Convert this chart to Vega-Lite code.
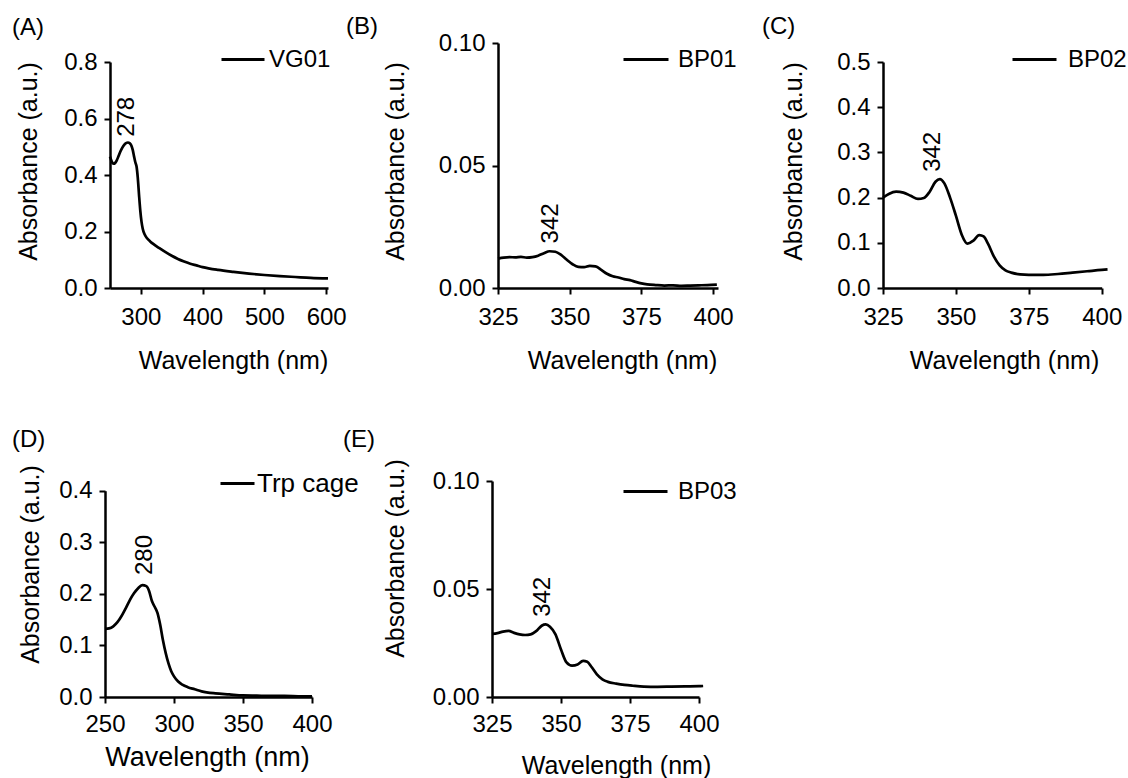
{
  "$schema": "https://vega.github.io/schema/vega-lite/v6.json",
  "background": "white",
  "padding": {"left": 12, "top": 15, "right": 5, "bottom": 5},
  "bounds": "flush",
  "columns": 3,
  "spacing": {"row": 193, "column": 165},
  "datasets": {
    "vg01": [
      {"wl":250,"a":0.465},{"wl":252,"a":0.452},{"wl":254,"a":0.443},{"wl":256,"a":0.44},{"wl":258,"a":0.442},
      {"wl":261,"a":0.452},{"wl":264,"a":0.468},{"wl":267,"a":0.484},{"wl":270,"a":0.497},{"wl":273,"a":0.507},
      {"wl":276,"a":0.513},{"wl":279,"a":0.515},{"wl":282,"a":0.512},{"wl":285,"a":0.502},{"wl":287,"a":0.487},
      {"wl":289,"a":0.465},{"wl":291,"a":0.445},{"wl":293,"a":0.43},{"wl":295,"a":0.39},{"wl":297,"a":0.33},
      {"wl":299,"a":0.275},{"wl":301,"a":0.235},{"wl":303,"a":0.21},{"wl":306,"a":0.19},{"wl":310,"a":0.176},
      {"wl":315,"a":0.165},{"wl":320,"a":0.156},{"wl":330,"a":0.141},{"wl":340,"a":0.127},{"wl":350,"a":0.114},
      {"wl":360,"a":0.103},{"wl":370,"a":0.094},{"wl":380,"a":0.086},{"wl":390,"a":0.08},{"wl":400,"a":0.074},
      {"wl":425,"a":0.064},{"wl":450,"a":0.057},{"wl":475,"a":0.051},{"wl":500,"a":0.046},{"wl":525,"a":0.042},
      {"wl":550,"a":0.039},{"wl":575,"a":0.036},{"wl":603,"a":0.034}
    ],
    "bp01": [
      {"wl":325,"a":0.0120},{"wl":327,"a":0.0124},{"wl":329,"a":0.0126},{"wl":331,"a":0.0125},{"wl":333,"a":0.0127},
      {"wl":335,"a":0.0124},{"wl":337,"a":0.0126},{"wl":339,"a":0.0132},{"wl":341,"a":0.0142},{"wl":343,"a":0.0150},
      {"wl":345,"a":0.0148},{"wl":347,"a":0.0135},{"wl":349,"a":0.0115},{"wl":351,"a":0.0097},{"wl":353,"a":0.0086},
      {"wl":355,"a":0.0085},{"wl":357,"a":0.0090},{"wl":359,"a":0.0088},{"wl":361,"a":0.0074},{"wl":363,"a":0.0058},
      {"wl":365,"a":0.0048},{"wl":367,"a":0.0043},{"wl":369,"a":0.0036},{"wl":371,"a":0.0032},{"wl":373,"a":0.0025},
      {"wl":375,"a":0.0019},{"wl":377,"a":0.0015},{"wl":380,"a":0.0012},{"wl":383,"a":0.0010},{"wl":386,"a":0.0011},
      {"wl":389,"a":0.0009},{"wl":392,"a":0.0010},{"wl":395,"a":0.0011},{"wl":398,"a":0.0012},{"wl":401.3,"a":0.0014}
    ],
    "bp02": [
      {"wl":325,"a":0.200},{"wl":327,"a":0.208},{"wl":329.5,"a":0.213},{"wl":332,"a":0.211},{"wl":334.5,"a":0.204},
      {"wl":337,"a":0.197},{"wl":339,"a":0.199},{"wl":341,"a":0.213},{"wl":343,"a":0.235},{"wl":344.5,"a":0.241},
      {"wl":346,"a":0.232},{"wl":348,"a":0.200},{"wl":350,"a":0.160},{"wl":352,"a":0.118},{"wl":354,"a":0.098},
      {"wl":356,"a":0.105},{"wl":358,"a":0.117},{"wl":359.5,"a":0.114},{"wl":361,"a":0.098},{"wl":363,"a":0.070},
      {"wl":365,"a":0.050},{"wl":367,"a":0.039},{"wl":369,"a":0.034},{"wl":372,"a":0.030},{"wl":375,"a":0.029},
      {"wl":380,"a":0.029},{"wl":385,"a":0.031},{"wl":390,"a":0.034},{"wl":395,"a":0.037},{"wl":400,"a":0.040},
      {"wl":402,"a":0.041}
    ],
    "trp": [
      {"wl":250,"a":0.132},{"wl":253,"a":0.133},{"wl":256,"a":0.137},{"wl":259,"a":0.145},{"wl":262,"a":0.157},
      {"wl":265,"a":0.172},{"wl":268,"a":0.188},{"wl":271,"a":0.201},{"wl":274,"a":0.211},{"wl":277,"a":0.217},
      {"wl":280,"a":0.215},{"wl":282,"a":0.205},{"wl":284,"a":0.186},{"wl":286,"a":0.175},{"wl":288,"a":0.163},
      {"wl":290,"a":0.140},{"wl":292,"a":0.110},{"wl":294,"a":0.085},{"wl":296,"a":0.065},{"wl":298,"a":0.050},
      {"wl":300,"a":0.040},{"wl":303,"a":0.030},{"wl":306,"a":0.024},{"wl":310,"a":0.019},{"wl":315,"a":0.015},
      {"wl":320,"a":0.011},{"wl":330,"a":0.007},{"wl":340,"a":0.005},{"wl":350,"a":0.003},{"wl":360,"a":0.0025},
      {"wl":370,"a":0.002},{"wl":380,"a":0.002},{"wl":390,"a":0.0015},{"wl":400,"a":0.0012}
    ],
    "bp03": [
      {"wl":325,"a":0.0292},{"wl":327,"a":0.0296},{"wl":329,"a":0.0303},{"wl":331,"a":0.0306},{"wl":333,"a":0.0297},
      {"wl":335,"a":0.0290},{"wl":337,"a":0.0287},{"wl":339,"a":0.0290},{"wl":341,"a":0.0305},{"wl":343,"a":0.0330},
      {"wl":344.5,"a":0.0336},{"wl":346,"a":0.0325},{"wl":348,"a":0.0290},{"wl":350,"a":0.0220},{"wl":352,"a":0.0160},
      {"wl":354,"a":0.0145},{"wl":356,"a":0.0150},{"wl":358,"a":0.0167},{"wl":359.5,"a":0.0163},{"wl":361,"a":0.0140},
      {"wl":363,"a":0.0105},{"wl":365,"a":0.0082},{"wl":367,"a":0.0070},{"wl":370,"a":0.0062},{"wl":373,"a":0.0056},
      {"wl":376,"a":0.0052},{"wl":380,"a":0.0048},{"wl":385,"a":0.0047},{"wl":390,"a":0.0048},{"wl":395,"a":0.0049},
      {"wl":400,"a":0.0050},{"wl":401.5,"a":0.0051}
    ],
    "annA": [{"wl":278,"a":0.535,"t":"278"}],
    "annB": [{"wl":343.6,"a":0.0182,"t":"342"}],
    "annC": [{"wl":342.1,"a":0.257,"t":"342"}],
    "annD": [{"wl":279,"a":0.2365,"t":"280"}],
    "annE": [{"wl":343.3,"a":0.0371,"t":"342"}]
  },
  "concat": [
    {
      "width": 223, "height": 245,
      "title": {"text": "(A)", "anchor": "start", "frame": "group", "dx": -98, "offset": -3},
      "layer": [
        {
          "data": {"name": "vg01"},
          "mark": {"type": "line", "strokeWidth": 2.7, "interpolate": "monotone"},
          "encoding": {
            "x": {"field": "wl", "type": "quantitative", "scale": {"domain": [250, 603], "range": [0, 218], "nice": false},
                  "axis": {"values": [300, 400, 500, 600], "title": "Wavelength (nm)", "titleX": 123, "labelPadding": 11, "titlePadding": 19}},
            "y": {"field": "a", "type": "quantitative", "scale": {"domain": [0, 0.8], "range": [245, 19], "nice": false},
                  "axis": {"values": [0, 0.2, 0.4, 0.6, 0.8], "format": ".1f", "title": "Absorbance (a.u.)", "titleY": 118, "titlePadding": 22}},
            "stroke": {"datum": "VG01", "type": "nominal", "scale": {"range": ["black"]},
                       "legend": {"legendX": 110, "legendY": -6.5, "symbolSize": 1849, "labelOffset": 3}}
          }
        },
        {
          "data": {"name": "annA"},
          "mark": {"type": "text", "angle": 270, "align": "left", "baseline": "middle", "fontSize": 24, "color": "black"},
          "encoding": {"x": {"field": "wl", "type": "quantitative"}, "y": {"field": "a", "type": "quantitative"}, "text": {"field": "t"}}
        }
      ]
    },
    {
      "width": 220, "height": 245,
      "title": {"text": "(B)", "anchor": "start", "frame": "group", "dx": -152, "offset": -8},
      "layer": [
        {
          "data": {"name": "bp01"},
          "mark": {"type": "line", "strokeWidth": 2.7, "interpolate": "monotone"},
          "encoding": {
            "x": {"field": "wl", "type": "quantitative", "scale": {"domain": [325, 401.7], "range": [0, 220], "nice": false},
                  "axis": {"values": [325, 350, 375, 400], "title": "Wavelength (nm)", "titleX": 124, "labelPadding": 11, "titlePadding": 19}},
            "y": {"field": "a", "type": "quantitative", "scale": {"domain": [0, 0.1], "range": [245, 0], "nice": false},
                  "axis": {"values": [0, 0.05, 0.1], "format": ".2f", "title": "Absorbance (a.u.)", "titleY": 118, "titlePadding": 30}},
            "stroke": {"datum": "BP01", "type": "nominal", "scale": {"range": ["black"]},
                       "legend": {"legendX": 124, "legendY": -7.5, "symbolSize": 2025, "labelOffset": 8}}
          }
        },
        {
          "data": {"name": "annB"},
          "mark": {"type": "text", "angle": 270, "align": "left", "baseline": "middle", "fontSize": 24, "color": "black"},
          "encoding": {"x": {"field": "wl", "type": "quantitative"}, "y": {"field": "a", "type": "quantitative"}, "text": {"field": "t"}}
        }
      ]
    },
    {
      "width": 219, "height": 245,
      "title": {"text": "(C)", "anchor": "start", "frame": "group", "dx": -121, "offset": -3},
      "layer": [
        {
          "data": {"name": "bp02"},
          "mark": {"type": "line", "strokeWidth": 2.7, "interpolate": "monotone"},
          "encoding": {
            "x": {"field": "wl", "type": "quantitative", "scale": {"domain": [325, 400], "range": [0, 218.7], "nice": false},
                  "axis": {"values": [325, 350, 375, 400], "title": "Wavelength (nm)", "titleX": 121, "labelPadding": 11, "titlePadding": 19}},
            "y": {"field": "a", "type": "quantitative", "scale": {"domain": [0, 0.5], "range": [245, 19], "nice": false},
                  "axis": {"values": [0, 0.1, 0.2, 0.3, 0.4, 0.5], "format": ".1f", "title": "Absorbance (a.u.)", "titleY": 118, "titlePadding": 30}},
            "stroke": {"datum": "BP02", "type": "nominal", "scale": {"range": ["black"]},
                       "legend": {"legendX": 128, "legendY": -7, "symbolSize": 1936, "labelOffset": 10}}
          }
        },
        {
          "data": {"name": "annC"},
          "mark": {"type": "text", "angle": 270, "align": "left", "baseline": "middle", "fontSize": 24, "color": "black"},
          "encoding": {"x": {"field": "wl", "type": "quantitative"}, "y": {"field": "a", "type": "quantitative"}, "text": {"field": "t"}}
        }
      ]
    },
    {
      "width": 217, "height": 216,
      "title": {"text": "(D)", "anchor": "start", "frame": "group", "dx": -98, "offset": 13},
      "layer": [
        {
          "data": {"name": "trp"},
          "mark": {"type": "line", "strokeWidth": 2.7, "interpolate": "monotone"},
          "encoding": {
            "x": {"field": "wl", "type": "quantitative", "scale": {"domain": [250, 400], "range": [-5, 202], "nice": false},
                  "axis": {"values": [250, 300, 350, 400], "title": "Wavelength (nm)", "titleX": 97, "titleFontSize": 27, "labelPadding": 9, "titlePadding": 8}},
            "y": {"field": "a", "type": "quantitative", "scale": {"domain": [0, 0.4], "range": [216, 9.7], "nice": false},
                  "axis": {"values": [0, 0.1, 0.2, 0.3, 0.4], "format": ".1f", "title": "Absorbance (a.u.)", "titleY": 83, "titlePadding": 15, "offset": 5}},
            "stroke": {"datum": "Trp cage", "type": "nominal", "scale": {"range": ["black"]},
                       "legend": {"legendX": 109, "legendY": -16, "symbolSize": 1156, "labelOffset": 1, "labelFontSize": 26}}
          }
        },
        {
          "data": {"name": "annD"},
          "mark": {"type": "text", "angle": 270, "align": "left", "baseline": "middle", "fontSize": 24, "color": "black"},
          "encoding": {"x": {"field": "wl", "type": "quantitative"}, "y": {"field": "a", "type": "quantitative"}, "text": {"field": "t"}}
        }
      ]
    },
    {
      "width": 207, "height": 216,
      "title": {"text": "(E)", "anchor": "start", "frame": "group", "dx": -155, "offset": 7},
      "layer": [
        {
          "data": {"name": "bp03"},
          "mark": {"type": "line", "strokeWidth": 2.7, "interpolate": "monotone"},
          "encoding": {
            "x": {"field": "wl", "type": "quantitative", "scale": {"domain": [325, 400], "range": [-6, 201], "nice": false},
                  "axis": {"values": [325, 350, 375, 400], "title": "Wavelength (nm)", "titleX": 118, "labelPadding": 9, "titlePadding": 17}},
            "y": {"field": "a", "type": "quantitative", "scale": {"domain": [0, 0.1], "range": [216, 0], "nice": false},
                  "axis": {"values": [0, 0.05, 0.1], "format": ".2f", "title": "Absorbance (a.u.)", "titleY": 77, "titlePadding": 24, "offset": 6}},
            "stroke": {"datum": "BP03", "type": "nominal", "scale": {"range": ["black"]},
                       "legend": {"legendX": 124, "legendY": -13, "symbolSize": 1936, "labelOffset": 9}}
          }
        },
        {
          "data": {"name": "annE"},
          "mark": {"type": "text", "angle": 270, "align": "left", "baseline": "middle", "fontSize": 24, "color": "black"},
          "encoding": {"x": {"field": "wl", "type": "quantitative"}, "y": {"field": "a", "type": "quantitative"}, "text": {"field": "t"}}
        }
      ]
    }
  ],
  "resolve": {"scale": {"stroke": "independent"}, "legend": {"stroke": "independent"}},
  "config": {
    "font": "Liberation Sans",
    "view": {"stroke": null},
    "axis": {
      "domainColor": "black", "domainWidth": 2.5, "tickColor": "black", "tickWidth": 2, "tickSize": 6,
      "labelFont": "Liberation Sans", "labelFontSize": 24, "labelColor": "black",
      "titleFont": "Liberation Sans", "titleFontSize": 25, "titleFontWeight": "normal", "titleColor": "black",
      "grid": false, "labelFlush": false, "labelOverlap": false
    },
    "axisY": {"labelPadding": 7},
    "legend": {
      "orient": "none", "symbolType": "stroke", "symbolStrokeWidth": 3, "labelFontSize": 24,
      "labelColor": "black", "labelFont": "Liberation Sans", "padding": 0, "title": null
    },
    "title": {"fontSize": 24, "fontWeight": "normal", "color": "black", "font": "Liberation Sans"}
  }
}
